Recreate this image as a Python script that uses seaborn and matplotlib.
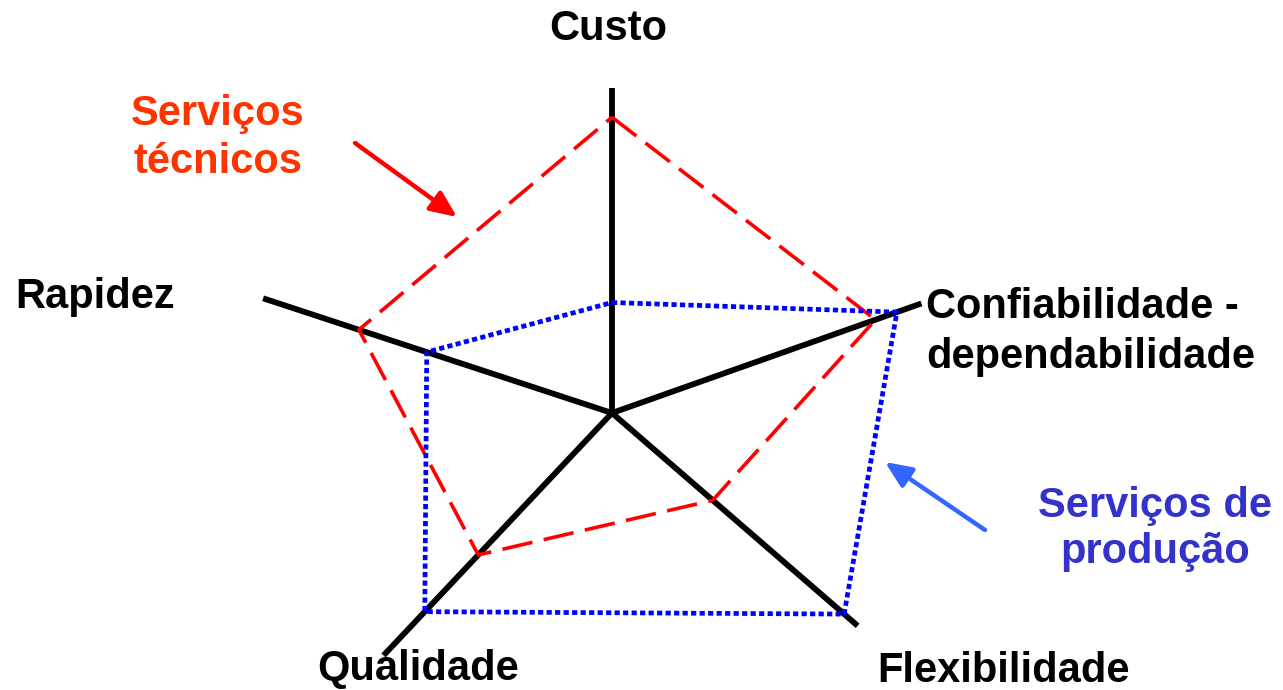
import numpy as np
import matplotlib.pyplot as plt
import seaborn as sns

# Axes of the competitive profile (angle in degrees, length on a 0-10 scale)
criteria = ["Custo", "Confiabilidade -\ndependabilidade", "Flexibilidade", "Qualidade", "Rapidez"]
angles_deg = [90, 19.5, -40.9, -133.3, 161.8]
axis_length = [10.0, 10.1, 10.0, 10.25, 11.3]

# Profiles
servicos_tecnicos = [9.1, 8.6, 4.1, 6.0, 8.2]
servicos_producao = [3.4, 9.3, 9.45, 8.4, 6.0]

W, H = 1283, 690
PX = 32.5  # pixels per unit
cx, cy = 612, 413  # centre in pixels from top-left

sns.set_style("white")
plt.rcParams["font.family"] = ["Liberation Sans", "DejaVu Sans"]

fig = plt.figure(figsize=(W / 100, H / 100), dpi=100)
R = 10 * PX
ax = fig.add_axes([(cx - R) / W, (H - cy - R) / H, 2 * R / W, 2 * R / H], projection="polar")
ax.set_ylim(0, 10)
ax.set_axis_off()

theta = np.deg2rad(angles_deg)

# Black axes
for t, L in zip(theta, axis_length):
    ax.plot([t, t], [0, L], color="black", lw=4.2, solid_capstyle="butt", clip_on=False)


def closed(vals):
    return np.append(theta, theta[0]), np.append(vals, vals[0])


t_red, r_red = closed(servicos_tecnicos)
sns.lineplot(x=t_red, y=r_red, ax=ax, sort=False, estimator=None, color="#FF0000",
             lw=2.6, linestyle=(0, (8.5, 3.2)), clip_on=False)

t_blue, r_blue = closed(servicos_producao)
sns.lineplot(x=t_blue, y=r_blue, ax=ax, sort=False, estimator=None, color="#0000FF",
             lw=3.4, linestyle=(0, (1.1, 0.7)), clip_on=False)


def fx(x):
    return x / W


def fy(y):
    return 1 - y / H


def label(x, y, s, ha, color="black", step=48):
    # one text per line, y is the baseline of the first line (pixels from top)
    for i, line in enumerate(s.split("\n")):
        fig.text(fx(x), fy(y + i * step), line, ha=ha, va="baseline",
                 fontsize=30, fontweight="bold", color=color)


label(608, 40, criteria[0], "center")
label(926, 318, criteria[1], "left", step=50)
label(1003, 682, criteria[2], "center")
label(418, 680, criteria[3], "center")
label(15, 308, criteria[4], "left")

# Series labels with arrows
label(218, 125, "Serviços\ntécnicos", "center", color="#FF3300")
ax.annotate("", xy=(fx(457), fy(217)), xycoords="figure fraction",
            xytext=(fx(355), fy(143)), textcoords="figure fraction",
            arrowprops=dict(arrowstyle="-|>,head_length=1.6,head_width=0.7",
                            color="#FF0000", lw=3.2, shrinkA=0, shrinkB=0))

label(1155, 517, "Serviços de\nprodução", "center", color="#3333CC", step=46)
ax.annotate("", xy=(fx(885), fy(462)), xycoords="figure fraction",
            xytext=(fx(985), fy(530)), textcoords="figure fraction",
            arrowprops=dict(arrowstyle="-|>,head_length=1.6,head_width=0.7",
                            color="#3366FF", lw=3.2, shrinkA=0, shrinkB=0))

fig.savefig("out.png", dpi=100)
